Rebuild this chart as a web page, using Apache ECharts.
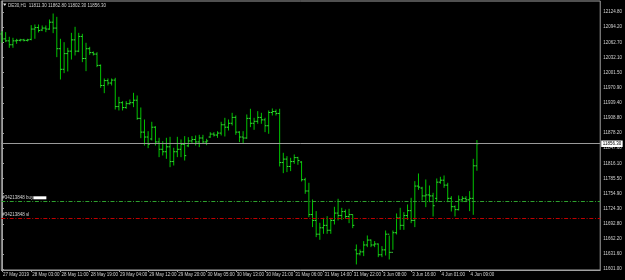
<!DOCTYPE html>
<html><head><meta charset="utf-8">
<script src="https://cdn.jsdelivr.net/npm/echarts@6/dist/echarts.min.js"></script>
<style>html,body{margin:0;padding:0;background:#000;}#c{width:625px;height:280px;}</style>
</head><body><div id="c"></div><script>
const xTickLabels = ['27 May 2019','28 May 03:00','28 May 11:00','28 May 19:00','29 May 04:00','29 May 12:00','29 May 20:00','30 May 05:00','30 May 13:00','30 May 21:00','31 May 06:00','31 May 14:00','31 May 22:00','3 Jun 08:00','3 Jun 16:00','4 Jun 01:00','4 Jun 09:00'];
const yTickValues = [11601.00,11631.60,11662.20,11692.80,11724.30,11754.90,11785.50,11816.10,11847.60,11878.20,11908.80,11939.40,11970.90,12001.50,12032.10,12062.70,12094.20,12124.80];
const opens = [12080,12070,12066,12058,12066,12067,12068,12067,12069,12090,
12093,12088,12092,12090,12104,12092,12050,12008,12040,12045,
12068,12045,12075,12030,12050,12042,12039,12016,11975,11985,
11980,11986,11932,11940,11930,11938,11940,11945,11908,11880,
11870,11866,11890,11860,11845,11840,11850,11820,11840,11845,
11855,11852,11862,11865,11860,11868,11860,11870,11876,11874,
11878,11895,11890,11898,11910,11880,11870,11868,11908,11898,
11902,11910,11905,11893,11920,11922,11918,11818,11825,11810,
11820,11828,11819,11783,11760,11712,11700,11672,11685,11690,
11680,11700,11715,11710,11718,11708,11712,11640,11632,11636,
11650,11660,11650,11652,11630,11640,11672,11635,11675,11705,
11690,11710,11720,11700,11770,11766,11750,11752,11750,11745,
11778,11782,11772,11745,11728,11722,11742,11745,11742,11745,11811.3];
const highs = [12084.7,12082.7,12073.2,12071.2,12069.1,12069.1,12069.1,12069.1,12097.0,12098.3,
12098.3,12096.3,12096.3,12108.5,12120.7,12113.9,12069.1,12062.3,12050.8,12081.3,
12093.6,12081.3,12079.3,12061.0,12052.8,12043.3,12041.9,12016.8,11988.3,11988.3,
11988.3,11989.6,11950.9,11942.1,11942.1,11945.5,11959.1,11953.6,11929.2,11904.7,
11880.9,11900.0,11891.1,11867.4,11860.6,11867.4,11869.4,11847.0,11869.4,11864.0,
11870.8,11868.7,11870.8,11872.1,11873.5,11873.5,11865.3,11878.9,11878.9,11880.9,
11900.0,11908.1,11904.7,11918.3,11912.9,11880.9,11880.9,11914.9,11926.5,11908.1,
11921.7,11918.3,11908.1,11923.1,11927.2,11925.1,11926.5,11836.8,11830.0,11826.6,
11833.4,11828.7,11819.8,11785.9,11775.7,11741.7,11718.0,11694.2,11704.3,11707.7,
11704.3,11726.8,11743.1,11724.7,11721.3,11722.7,11711.1,11650.0,11639.8,11656.8,
11668.3,11660.2,11656.8,11652.0,11646.6,11678.5,11668.3,11678.5,11713.2,11724.7,
11715.9,11731.5,11745.1,11779.1,11794.7,11767.5,11782.5,11770.2,11755.3,11784.5,
11787.9,11790.6,11775.7,11748.5,11729.5,11749.9,11748.5,11748.5,11758.7,11824.6,11862.8];
const lows = [12063.0,12064.4,12052.8,12052.8,12061.0,12065.7,12065.7,12065.7,12068.0,12071.2,
12084.1,12086.8,12084.7,12089.5,12082.7,12033.8,11988.3,12001.2,12004.6,12029.0,
12037.2,12044.0,12023.6,12005.3,12038.5,12037.2,12013.4,11971.3,11960.4,11976.1,
11976.1,11927.1,11925.1,11925.1,11928.5,11936.7,11931.9,11906.1,11868.7,11853.8,
11848.3,11864.0,11853.8,11830.0,11833.4,11826.6,11809.6,11813.0,11830.0,11830.0,
11823.2,11850.4,11857.2,11853.8,11850.4,11857.2,11854.5,11869.4,11872.1,11869.4,
11874.2,11872.1,11884.3,11894.6,11875.5,11860.6,11858.5,11867.4,11891.2,11885.7,
11898.0,11898.0,11881.0,11877.6,11914.9,11914.9,11811.0,11797.4,11799.5,11801.5,
11816.4,11814.4,11780.4,11755.3,11707.7,11687.4,11667.0,11661.6,11673.8,11673.8,
11673.8,11692.8,11701.0,11702.3,11704.3,11695.5,11685.3,11611.3,11629.6,11628.3,
11646.6,11646.6,11646.6,11626.2,11626.2,11629.6,11621.5,11641.2,11672.4,11681.9,
11681.9,11702.3,11695.5,11687.4,11763.4,11741.7,11728.1,11738.3,11709.1,11738.3,
11775.7,11767.5,11738.3,11719.3,11709.1,11721.3,11738.3,11738.3,11720.0,11712.5,11802.3];
const closes = [12070,12066,12058,12066,12067,12068,12067,12068,12090,12093,
12087,12092,12090,12104,12092,12050,12008,12040,12045,12068,
12045,12075,12030,12050,12042,12039,12016,11975,11985,11980,
11986,11932,11940,11930,11938,11940,11945,11908,11880,11870,
11855,11890,11860,11845,11840,11850,11820,11840,11845,11855,
11832,11862,11865,11860,11868,11860,11862,11876,11874,11878,
11895,11890,11898,11910,11880,11870,11868,11908,11898,11902,
11910,11905,11893,11920,11922,11918,11818,11825,11810,11820,
11828,11822,11783,11760,11712,11700,11672,11685,11690,11680,
11700,11715,11710,11718,11708,11712,11690,11632,11636,11650,
11660,11650,11652,11630,11640,11672,11635,11675,11705,11690,
11710,11720,11700,11770,11768,11750,11752,11750,11730,11778,
11782,11772,11745,11728,11722,11742,11745,11742,11745,11811.3,11856.3];
const lastPrice = 11856.30;
const buyLevel = 11739.0;
const slLevel = 11705.0;
const headerText = 'DE30,H1  11811.30 11862.80 11802.30 11856.30';
const buyText = '#34213848 buy';
const slText = '#34213848 sl';

const FONT = '"Liberation Sans", Arial, sans-serif';
const TXT = '#d2d2d2';
const FRAME = '#a0a0a0';
const data = opens.map((o, i) => [i, o, closes[i], lows[i], highs[i]]);
const xTickIdx = xTickLabels.map((_, i) => i * 8);

const chart = echarts.init(document.getElementById('c'), null, {renderer: 'canvas'});
chart.setOption({
  animation: false,
  backgroundColor: '#000',
  grid: {left: 1, right: 24, top: 1, bottom: 10, show: true, borderColor: FRAME, borderWidth: 1, backgroundColor: '#000'},
  xAxis: {
    type: 'value', min: -0.186, max: 163.75, splitLine: {show: false},
    axisLine: {show: true, lineStyle: {color: FRAME}},
    axisTick: {show: true, length: 2, customValues: xTickIdx, lineStyle: {color: FRAME}},
    axisLabel: {customValues: xTickIdx, formatter: v => xTickLabels[Math.round(v / 8)] || '',
      align: 'left', margin: 2, fontSize: 4.5, color: TXT, fontFamily: FONT, padding: [0, 0, 0, 1]}
  },
  yAxis: {
    type: 'value', position: 'right', min: 11599.0, max: 12147.2, splitLine: {show: false},
    axisLine: {show: true, lineStyle: {color: FRAME}},
    axisTick: {show: true, length: 2, customValues: yTickValues, lineStyle: {color: FRAME}},
    axisLabel: {customValues: yTickValues, formatter: v => v.toFixed(2), margin: 3, fontSize: 4.5, color: TXT, fontFamily: FONT}
  },
  series: [{
    type: 'custom',
    data: data,
    encode: {x: 0, y: [1, 2, 3, 4]},
    renderItem: function (params, api) {
      const i = api.value(0);
      const top = api.coord([i, api.value(4)]);
      const bot = api.coord([i, api.value(3)]);
      const op = api.coord([i, api.value(1)]);
      const cl = api.coord([i, api.value(2)]);
      const x = top[0];
      return {type: 'group', children: [
        {type: 'line', shape: {x1: x, y1: top[1] - 0.5, x2: x, y2: bot[1] + 0.5}, style: {stroke: '#00c400', lineWidth: 1}},
        {type: 'line', shape: {x1: x - 1.6, y1: op[1], x2: x, y2: op[1]}, style: {stroke: '#3cd83c', lineWidth: 1}},
        {type: 'line', shape: {x1: x, y1: cl[1], x2: x + 1.6, y2: cl[1]}, style: {stroke: '#3cd83c', lineWidth: 1}}
      ]};
    },
    markLine: {
      silent: true, symbol: ['none', 'none'], animation: false,
      data: [
        {yAxis: lastPrice, lineStyle: {color: '#9a9a9a', type: 'solid', width: 1},
          label: {show: true, position: 'end', formatter: lastPrice.toFixed(2), backgroundColor: '#fff', color: '#000',
            fontSize: 4.5, fontFamily: FONT, padding: [1, 1.5, 0.5, 1.5], distance: 1}},
        {yAxis: buyLevel, lineStyle: {color: '#2ea02e', type: [4, 1.7, 1, 1.7], width: 1},
          label: {show: true, position: 'insideStartTop', distance: 1, formatter: '{t|' + buyText + '}{w| }',
            rich: {t: {fontSize: 4.5, fontFamily: FONT, color: TXT}, w: {backgroundColor: '#fff', width: 13, height: 3, fontSize: 3}}}},
        {yAxis: slLevel, lineStyle: {color: '#c00000', type: [4, 1.7, 1, 1.7], width: 1},
          label: {show: true, position: 'insideStartTop', distance: 1, formatter: slText,
            fontSize: 4.5, fontFamily: FONT, color: TXT}}
      ]
    }
  }],
  graphic: [
    {type: 'polygon', z: 100, shape: {points: [[3, 3.5], [6.5, 3.5], [4.75, 6]]}, style: {fill: '#e0e0e0'}},
    {type: 'text', z: 100, x: 8, y: 3, style: {text: headerText, fill: TXT, fontSize: 4.5, fontFamily: FONT}}
  ]
});
</script></body></html>
